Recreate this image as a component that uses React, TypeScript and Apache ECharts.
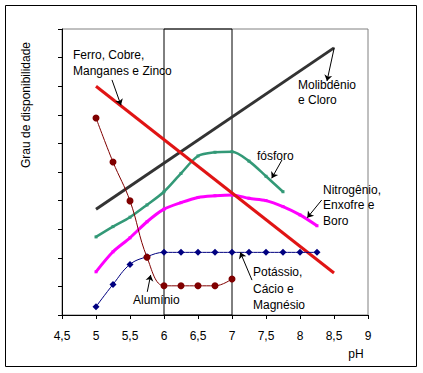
import React, { useEffect, useRef } from "react";
import * as echarts from "echarts";

// ---- data ----
const xTicksMin = 4.5;
const xTicksMax = 9;
const ferroX = [5, 8.5];
const ferroY = [8.0, 1.47];
const molibX = [5, 8.5];
const molibY = [3.7, 9.34];
const fosforoX = [5, 5.25, 5.5, 5.75, 6, 6.25, 6.5, 6.75, 7, 7.25, 7.5, 7.75];
const fosforoY = [2.73, 3.09, 3.42, 3.85, 4.31, 4.95, 5.56, 5.69, 5.71, 5.38, 4.85, 4.31];
const nitroX = [5, 5.25, 5.5, 5.75, 6, 6.25, 6.5, 6.75, 7, 7.25, 7.5, 7.75, 8, 8.25];
const nitroY = [1.51, 2.21, 2.7, 3.26, 3.7, 3.93, 4.11, 4.17, 4.2, 4.08, 4.0, 3.79, 3.5, 3.12];
const potX = [5, 5.25, 5.5, 5.75, 6, 6.25, 6.5, 6.75, 7, 7.25, 7.5, 7.75, 8, 8.25];
const potY = [0.29, 1.07, 1.77, 2.04, 2.19, 2.19, 2.19, 2.19, 2.19, 2.19, 2.19, 2.19, 2.19, 2.19];
const aluX = [5, 5.25, 5.5, 5.75, 6, 6.25, 6.5, 6.75, 7];
const aluY = [6.89, 5.35, 3.99, 2.02, 1.02, 1.02, 1.02, 1.02, 1.26];

// arrows: [fromX, fromY, toX, toY] in data coordinates
const arrows = [
  [5.235, 8.22, 5.368, 7.33],
  [8.504, 9.35, 8.397, 8.18],
  [7.735, 5.42, 7.584, 4.78],
  [8.319, 4.02, 8.107, 3.4],
  [7.294, 1.22, 7.122, 2.19],
  [5.754, 0.81, 5.804, 1.4],
];

const FONT = '12px "Liberation Sans", Arial, sans-serif';

function pairs(xs: number[], ys: number[]) {
  return xs.map((x, i) => [x, ys[i]]);
}

export default function App() {
  const ref = useRef<HTMLDivElement>(null);
  useEffect(() => {
    document.body.style.margin = "0";
    const chart = echarts.init(ref.current!, null, { renderer: "svg" });
    const label = (text: string, x: number, y: number, lh = 16, extra: any = {}) => ({
      type: "text",
      x,
      y,
      style: {
        text,
        font: FONT,
        fill: "#000",
        textVerticalAlign: "top",
        lineHeight: lh,
        ...extra,
      },
      z: 10,
    });
    chart.setOption({
      animation: false,
      grid: {
        left: 62,
        right: 55,
        top: 29,
        bottom: 58,
        show: true,
        borderColor: "#808080",
        borderWidth: 1,
        backgroundColor: "transparent",
      },
      xAxis: {
        type: "value",
        min: xTicksMin,
        max: xTicksMax,
        interval: 0.5,
        axisLine: { show: true, lineStyle: { color: "#000", width: 1 } },
        axisTick: { show: true, length: 4, lineStyle: { color: "#000" } },
        axisLabel: {
          margin: 15,
          color: "#000",
          fontSize: 12,
          fontFamily: '"Liberation Sans", Arial, sans-serif',
          formatter: (v: number) => String(v).replace(".", ","),
        },
        splitLine: { show: false },
      },
      yAxis: {
        type: "value",
        min: 0,
        max: 10,
        interval: 1,
        axisLine: { show: true, lineStyle: { color: "#000", width: 1 } },
        axisTick: { show: true, length: 4, lineStyle: { color: "#000" } },
        axisLabel: { show: false },
        splitLine: { show: false },
      },
      series: [
        {
          name: "Ferro, Cobre, Manganes e Zinco",
          type: "line",
          data: pairs(ferroX, ferroY),
          symbol: "none",
          lineStyle: { color: "#e01414", width: 3 },
          z: 3,
          markArea: {
            silent: true,
            itemStyle: { color: "rgba(0,0,0,0)", borderColor: "#000", borderWidth: 1 },
            data: [[{ xAxis: 6, yAxis: 0 }, { xAxis: 7, yAxis: 10 }]],
          },
        },
        {
          name: "Molibdênio e Cloro",
          type: "line",
          data: pairs(molibX, molibY),
          symbol: "none",
          lineStyle: { color: "#333333", width: 3 },
          z: 2,
        },
        {
          name: "fósforo",
          type: "line",
          data: pairs(fosforoX, fosforoY),
          symbol: "rect",
          symbolSize: 3,
          smooth: 0.3,
          itemStyle: { color: "#339977" },
          lineStyle: { color: "#339977", width: 2.5 },
          z: 2,
        },
        {
          name: "Nitrogênio, Enxofre e Boro",
          type: "line",
          data: pairs(nitroX, nitroY),
          symbol: "rect",
          symbolSize: 3,
          smooth: 0.3,
          itemStyle: { color: "#ff00ff" },
          lineStyle: { color: "#ff00ff", width: 3 },
          z: 2,
        },
        {
          name: "Potássio, Cácio e Magnésio",
          type: "line",
          data: pairs(potX, potY),
          symbol: "diamond",
          symbolSize: 7,
          smooth: 0.4,
          itemStyle: { color: "#000080" },
          lineStyle: { color: "#000080", width: 1 },
          z: 4,
        },
        {
          name: "Alumínio",
          type: "line",
          data: pairs(aluX, aluY),
          symbol: "circle",
          symbolSize: 7,
          smooth: 0.4,
          itemStyle: { color: "#800000" },
          lineStyle: { color: "#800000", width: 1 },
          z: 5,
          markLine: {
            silent: true,
            symbol: ["none", "arrow"],
            symbolSize: 6,
            label: { show: false },
            lineStyle: { color: "#000", width: 1, type: "solid" },
            data: arrows.map((a) => [{ coord: [a[0], a[1]] }, { coord: [a[2], a[3]] }]),
          },
        },
      ],
      graphic: [
        {
          type: "rect",
          shape: { x: 5.5, y: 5.5, width: 411, height: 361 },
          style: { fill: "none", stroke: "#000", lineWidth: 1 },
          silent: true,
        },
        label("Ferro, Cobre,\nManganes e Zinco", 73, 47, 16),
        label("Molibdênio\ne Cloro", 298, 77, 15),
        label("fósforo", 257, 148, 15),
        label("Nitrogênio,\nEnxofre e\nBoro", 323, 182, 15.5),
        label("Potássio,\nCácio e\nMagnésio", 253, 264, 16.5),
        label("Alumínio", 133, 292, 15),
        label("pH", 356, 346, 15, { textAlign: "center" }),
        {
          type: "text",
          x: 26,
          y: 105,
          rotation: Math.PI / 2,
          style: {
            text: "Grau de disponibilidade",
            font: FONT,
            fill: "#000",
            textAlign: "center",
            textVerticalAlign: "middle",
          },
        },
      ],
    });
    return () => chart.dispose();
  }, []);
  return <div ref={ref} style={{ width: 423, height: 373 }} />;
}
